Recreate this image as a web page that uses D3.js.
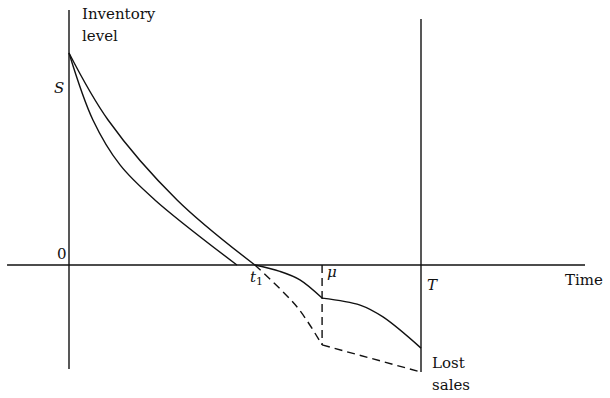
<!DOCTYPE html>
<html>
<head>
<meta charset="utf-8">
<script src="https://cdn.jsdelivr.net/npm/d3@7"></script>
<style>
  body { margin: 0; background: #fff; }
  text { font-family: "DejaVu Serif", serif; font-size: 15px; fill: #111; }
  .it { font-style: italic; }
</style>
</head>
<body>
<div id="chart"></div>
<script>
// time units: 0 = origin, 10 = T ; inventory units: S = 10
var S = 10, T = 10, t1 = 5.28, mu = 7.19;

// upper inventory curve (positive stock)
var upperT = [0, 1.11, 3.07, t1];
var upperY = [S, 6.84, 3.07, 0];
// lower inventory curve
var lowerT = [0, 0.68, 1.45, 2.44, 4.77];
var lowerY = [S, 6.84, 4.72, 3.07, 0];
// backlog, solid, t1 -> mu
var backT = [t1, 5.99, 6.56, mu];
var backY = [0, -0.3, -0.7, -1.56];
// backlog after mu, solid
var afterT = [mu, 8.27, 8.92, T];
var afterY = [-1.56, -1.89, -2.45, -3.92];
// dashed demand curve, t1 -> mu
var dashT = [t1, 6.48, mu];
var dashY = [0, -1.98, -3.77];
// lost sales bound
var lostT = [mu, T];
var lostY = [-3.77, -5.05];

var width = 610, height = 398;

var x = d3.scaleLinear().domain([0, 10]).range([69, 421]);
var y = d3.scaleLinear().domain([0, 10]).range([265, 53]);

var svg = d3.select("#chart").append("svg")
  .attr("width", width)
  .attr("height", height);

function zip(ts, ys) {
  return ts.map(function(t, i) { return [t, ys[i]]; });
}

var smooth = d3.line()
  .x(function(d) { return x(d[0]); })
  .y(function(d) { return y(d[1]); })
  .curve(d3.curveCatmullRom.alpha(0.5));

var straight = d3.line()
  .x(function(d) { return x(d[0]); })
  .y(function(d) { return y(d[1]); });

function stroke(sel, dashed) {
  sel.attr("fill", "none")
     .attr("stroke", "#111")
     .attr("stroke-width", 1.4);
  if (dashed) sel.attr("stroke-dasharray", "8,5");
  return sel;
}

// axes
stroke(svg.append("line")).attr("x1", x(0)).attr("x2", x(0))
  .attr("y1", y(12.03)).attr("y2", y(-4.9));
stroke(svg.append("line")).attr("x1", x(-1.76)).attr("x2", x(14.66))
  .attr("y1", y(0)).attr("y2", y(0));
stroke(svg.append("line")).attr("x1", x(T)).attr("x2", x(T))
  .attr("y1", y(11.6)).attr("y2", y(-5.05));

// curves
stroke(svg.append("path").attr("d", smooth(zip(upperT, upperY))));
stroke(svg.append("path").attr("d", smooth(zip(lowerT, lowerY))));
stroke(svg.append("path").attr("d", smooth(zip(backT, backY))));
stroke(svg.append("path").attr("d", smooth(zip(afterT, afterY))));
stroke(svg.append("path").attr("d", smooth(zip(dashT, dashY))), true);
stroke(svg.append("path").attr("d", straight(zip(lostT, lostY))), true);
stroke(svg.append("line"), true).attr("x1", x(mu)).attr("x2", x(mu))
  .attr("y1", y(0)).attr("y2", y(lostY[0]));

// labels
svg.append("text").attr("x", 82).attr("y", 19).text("Inventory");
svg.append("text").attr("x", 82).attr("y", 41).text("level");
svg.append("text").attr("class", "it").attr("x", 54).attr("y", 93).text("S");
svg.append("text").attr("x", 57).attr("y", 259).text("0");
var t1l = svg.append("text").attr("class", "it").attr("x", 250).attr("y", 282);
t1l.append("tspan").text("t");
t1l.append("tspan").attr("dy", 3).style("font-size", "11px").style("font-style", "normal").text("1");
svg.append("text").attr("class", "it").attr("x", 327).attr("y", 277).text("μ");
svg.append("text").attr("class", "it").attr("x", 427).attr("y", 290).text("T");
svg.append("text").attr("x", 565).attr("y", 285).text("Time");
svg.append("text").attr("x", 432).attr("y", 368).text("Lost");
svg.append("text").attr("x", 432).attr("y", 390).text("sales");
</script>
</body>
</html>
